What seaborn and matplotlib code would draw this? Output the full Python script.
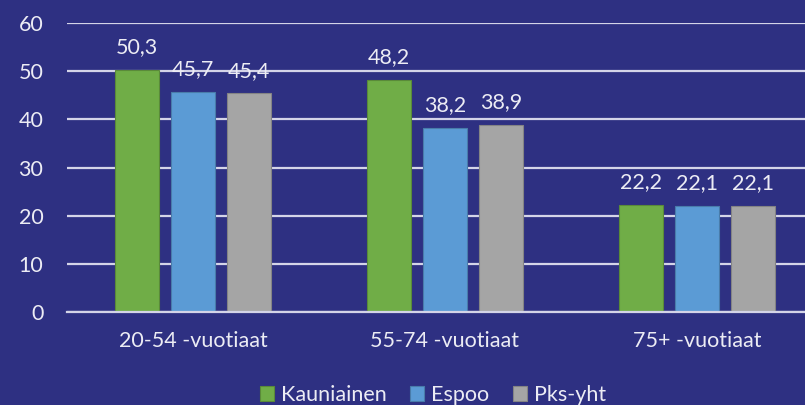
import matplotlib
matplotlib.use("Agg")
import matplotlib.pyplot as plt
import matplotlib.colors as mcolors
import seaborn as sns
import pandas as pd

age_groups = ["20-54 -vuotiaat", "55-74 -vuotiaat", "75+ -vuotiaat"]
areas = ["Kauniainen", "Espoo", "Pks-yht"]
kauniainen = [50.3, 48.2, 22.2]
espoo = [45.7, 38.2, 22.1]
pks_yht = [45.4, 38.9, 22.1]
y_ticks = [0, 10, 20, 30, 40, 50, 60]

colors = ["#70AD47", "#5B9BD5", "#A5A5A5"]
bg = "#2E3082"
text_col = "#ECECF4"
grid_col = "#D4D4E8"

rows = []
for series_name, vals in zip(areas, [kauniainen, espoo, pks_yht]):
    for g, v in zip(age_groups, vals):
        rows.append({"ikäryhmä": g, "alue": series_name, "arvo": v})
df = pd.DataFrame(rows)

sns.set_theme(style="white")
plt.rcParams["font.family"] = ["Lato", "DejaVu Sans"]

fig = plt.figure(figsize=(8.05, 4.05), dpi=100, facecolor=bg)
ax = fig.add_axes([67 / 805, 1 - 312 / 405, 756 / 805, 289 / 405])
ax.set_facecolor(bg)

sns.barplot(data=df, x="ikäryhmä", y="arvo", hue="alue", order=age_groups,
            hue_order=areas, palette=colors, width=0.667, gap=0.21,
            saturation=1, ax=ax, legend=True)

# thin darker outline on each bar
for p in ax.patches:
    r, g, b, _ = p.get_facecolor()
    p.set_edgecolor((r * 0.8, g * 0.8, b * 0.8))
    p.set_linewidth(0.8)

ax.set_xlim(-0.5, 2.5)
ax.set_ylim(0, 60)
ax.set_yticks(y_ticks)
ax.yaxis.grid(True, color=grid_col, linewidth=1.6)
ax.set_axisbelow(True)
for s in ["top", "right", "left"]:
    ax.spines[s].set_visible(False)
ax.spines["bottom"].set_color(grid_col)
ax.spines["bottom"].set_linewidth(1.6)
ax.tick_params(axis="y", length=0, pad=17, labelsize=15.5, labelcolor=text_col)
ax.tick_params(axis="x", length=0, pad=14, labelsize=15.5, labelcolor=text_col)
ax.set_xlabel("")
ax.set_ylabel("")

for cont in ax.containers:
    ax.bar_label(cont, labels=[f"{v:.1f}".replace(".", ",") for v in cont.datavalues],
                 padding=9, fontsize=15.5, color=text_col)

handles, labels = ax.get_legend_handles_labels()
ax.get_legend().remove()
fig.legend(handles, labels, loc="center", bbox_to_anchor=(433 / 805, 1 - 395 / 405),
           ncol=3, frameon=False, fontsize=15.5, labelcolor=text_col,
           handlelength=0.65, handleheight=0.65, handletextpad=0.33, columnspacing=1.1)

fig.savefig("out.png", dpi=100, facecolor=bg)
